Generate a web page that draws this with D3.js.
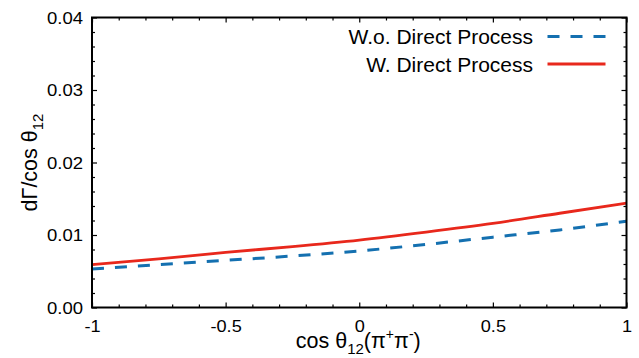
<!DOCTYPE html>
<html>
<head>
<meta charset="utf-8">
<script src="https://cdn.jsdelivr.net/npm/d3@7"></script>
<style>
  body { margin: 0; background: #fff; }
  text { font-family: "Liberation Sans", Arial, sans-serif; fill: #000; }
</style>
</head>
<body>
<div id="chart"></div>
<script>
// cos theta_12 sample points
const cosTheta = [-1, -0.75, -0.5, -0.25, 0, 0.25, 0.5, 0.75, 1];
// dGamma/dcos for both cases
const withoutDirect = [0.0053, 0.0059, 0.0065, 0.0071, 0.0078, 0.0087, 0.0097, 0.0107, 0.0119];
const withDirect = [0.0059, 0.0067, 0.0076, 0.0084, 0.0093, 0.0104, 0.0116, 0.0130, 0.0144];

const xTicks = [-1, -0.5, 0, 0.5, 1];
const xTickLabels = ['-1', '-0.5', '0', '0.5', '1'];
const yTicks = [0, 0.01, 0.02, 0.03, 0.04];
const yTickLabels = ['0.00', '0.01', '0.02', '0.03', '0.04'];

const series = [
  { name: 'W.o. Direct Process', values: withoutDirect, color: '#1470b0', dash: '12,11', width: 3 },
  { name: 'W. Direct Process', values: withDirect, color: '#e8281c', dash: null, width: 2.8 },
];

const width = 639;
const height = 358;
const margin = { top: 17.5, right: 12.5, bottom: 50.5, left: 92 };
const w = width - margin.left - margin.right;
const h = height - margin.top - margin.bottom;

const svg = d3.select('#chart').append('svg')
  .attr('width', width)
  .attr('height', height);

const g = svg.append('g').attr('transform', `translate(${margin.left},${margin.top})`);

const x = d3.scaleLinear().domain([-1, 1]).range([0, w]);
const y = d3.scaleLinear().domain([0, 0.04]).range([h, 0]);

const minorX = d3.range(-10, 11).map((d) => d / 10).filter((d) => !xTicks.includes(d));
const minorY = d3.range(0, 21).map((d) => d * 0.002).filter((d, i) => i % 5 !== 0);

// tick labels in the reference are a bit wider than Arial
const stretch = (sel, k) => {
  sel.each(function () {
    const len = this.getComputedTextLength();
    d3.select(this).attr('textLength', len * k).attr('lengthAdjust', 'spacingAndGlyphs');
  });
};

const tickStyle = (sel) => {
  sel.select('.domain').remove();
  sel.selectAll('line').attr('stroke', '#000').attr('stroke-width', 1.2);
};

// bottom / top axes (ticks inward)
g.append('g').attr('transform', `translate(0,${h})`)
  .call(d3.axisBottom(x).tickValues(xTicks).tickSize(-5)
    .tickFormat((d, i) => xTickLabels[i]))
  .call(tickStyle)
  .call((a) => a.selectAll('text').attr('font-size', 16.5).attr('y', 24).attr('dy', 0).call(stretch, 1.1));
g.append('g').attr('transform', `translate(0,${h})`)
  .call(d3.axisBottom(x).tickValues(minorX).tickSize(-3).tickFormat(''))
  .call(tickStyle);
g.append('g')
  .call(d3.axisTop(x).tickValues(xTicks).tickSize(-5).tickFormat(''))
  .call(tickStyle);
g.append('g')
  .call(d3.axisTop(x).tickValues(minorX).tickSize(-3).tickFormat(''))
  .call(tickStyle);

// left / right axes
g.append('g')
  .call(d3.axisLeft(y).tickValues(yTicks).tickSize(-5)
    .tickFormat((d, i) => yTickLabels[i]))
  .call(tickStyle)
  .call((a) => a.selectAll('text').attr('font-size', 16.5).attr('x', -9).attr('dy', '0.36em').call(stretch, 1.12));
g.append('g')
  .call(d3.axisLeft(y).tickValues(minorY).tickSize(-3).tickFormat(''))
  .call(tickStyle);
g.append('g').attr('transform', `translate(${w},0)`)
  .call(d3.axisRight(y).tickValues(yTicks).tickSize(-5).tickFormat(''))
  .call(tickStyle);
g.append('g').attr('transform', `translate(${w},0)`)
  .call(d3.axisRight(y).tickValues(minorY).tickSize(-3).tickFormat(''))
  .call(tickStyle);

// curves
const line = d3.line()
  .x((d, i) => x(cosTheta[i]))
  .y((d) => y(d))
  .curve(d3.curveMonotoneX);

series.forEach((s) => {
  g.append('path')
    .datum(s.values)
    .attr('fill', 'none')
    .attr('stroke', s.color)
    .attr('stroke-width', s.width)
    .attr('stroke-dasharray', s.dash)
    .attr('d', line);
});

// frame
g.append('rect')
  .attr('width', w).attr('height', h)
  .attr('fill', 'none').attr('stroke', '#000').attr('stroke-width', 2);

// legend
const legend = svg.append('g').attr('transform', 'translate(547.5,36.5)');
series.forEach((s, i) => {
  const row = legend.append('g').attr('transform', `translate(0,${i * 27.5})`);
  row.append('text')
    .attr('x', -14.5).attr('y', 0).attr('dy', '0.36em')
    .attr('text-anchor', 'end').attr('font-size', 21)
    .text(s.name);
  row.append('line')
    .attr('x1', 0).attr('x2', 58)
    .attr('stroke', s.color).attr('stroke-width', s.width)
    .attr('stroke-dasharray', s.dash);
});

// axis titles
const xt = svg.append('text')
  .attr('x', margin.left + w / 2 - 1).attr('y', 348)
  .attr('text-anchor', 'middle').attr('font-size', 21.5);
xt.append('tspan').text('cos \u03b8');
xt.append('tspan').attr('font-size', 15).attr('dy', 6).text('12');
xt.append('tspan').attr('dy', -6).text('(\u03c0');
xt.append('tspan').attr('font-size', 14).attr('dy', -9).text('+');
xt.append('tspan').attr('dy', 9).text('\u03c0');
xt.append('tspan').attr('font-size', 14).attr('dy', -9).text('-');
xt.append('tspan').attr('dy', 9).text(')');

const yt = svg.append('text')
  .attr('transform', `translate(37,${margin.top + h / 2}) rotate(-90)`)
  .attr('text-anchor', 'middle').attr('font-size', 21.5);
yt.append('tspan').text('d\u0393/cos \u03b8');
yt.append('tspan').attr('font-size', 15).attr('dy', 6).text('12');
</script>
</body>
</html>
